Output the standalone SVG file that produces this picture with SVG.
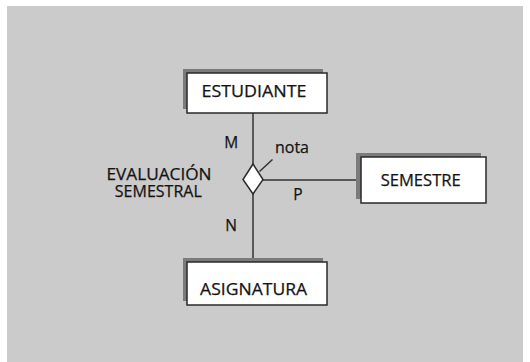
<svg xmlns="http://www.w3.org/2000/svg" width="530" height="362" viewBox="0 0 530 362">
<style>
.bg{fill:#cbcbcb}
.sh{fill:#7b7b7b}
.box{fill:#ffffff;stroke:#2a2a2a;stroke-width:1.5}
.ln{stroke:#333333;stroke-width:1.5;fill:none}
.t{font-family:"Open Sans","Liberation Sans",Arial,sans-serif;font-size:15.5px;fill:#141414;stroke:#141414;stroke-width:0.25}
</style>
<rect class="bg" x="7" y="6" width="516" height="356"/>
<g id="connectors">
<line class="ln" x1="253" y1="113" x2="253" y2="164"/>
<line class="ln" x1="253" y1="194" x2="253" y2="262"/>
<line class="ln" x1="263" y1="180" x2="361" y2="180"/>
<line class="ln" x1="272.5" y1="159.5" x2="259.5" y2="171.5"/>
</g>
<g id="estudiante">
<rect class="sh" x="183" y="69" width="140" height="40"/>
<rect class="box" x="187" y="73" width="140" height="40"/>
<text class="t" x="254" y="97" text-anchor="middle" textLength="105" lengthAdjust="spacingAndGlyphs">ESTUDIANTE</text>
</g>
<g id="semestre">
<rect class="sh" x="356" y="153" width="125" height="46"/>
<rect class="box" x="361" y="157" width="125" height="46"/>
<text class="t" x="420.7" y="186" text-anchor="middle" textLength="80" lengthAdjust="spacingAndGlyphs">SEMESTRE</text>
</g>
<g id="asignatura">
<rect class="sh" x="183" y="258" width="140" height="43"/>
<rect class="box" x="187" y="262" width="140" height="43"/>
<text class="t" x="253.6" y="295" text-anchor="middle" textLength="107" lengthAdjust="spacingAndGlyphs">ASIGNATURA</text>
</g>
<g id="evaluacion">
<polygon points="253,164 263,179.5 253,194 243,179.5" fill="#ffffff" stroke="#2a2a2a" stroke-width="1.5"/>
<text class="t" x="159" y="179.5" text-anchor="middle" textLength="105" lengthAdjust="spacingAndGlyphs">EVALUACIÓN</text>
<text class="t" x="158.3" y="196.5" text-anchor="middle" textLength="87" lengthAdjust="spacingAndGlyphs">SEMESTRAL</text>
<text class="t" x="275" y="153" textLength="34" lengthAdjust="spacingAndGlyphs">nota</text>
</g>
<g id="labels">
<text class="t" x="231.3" y="148" text-anchor="middle">M</text>
<text class="t" x="231" y="231" text-anchor="middle">N</text>
<text class="t" x="298" y="200" text-anchor="middle">P</text>
</g>
</svg>
